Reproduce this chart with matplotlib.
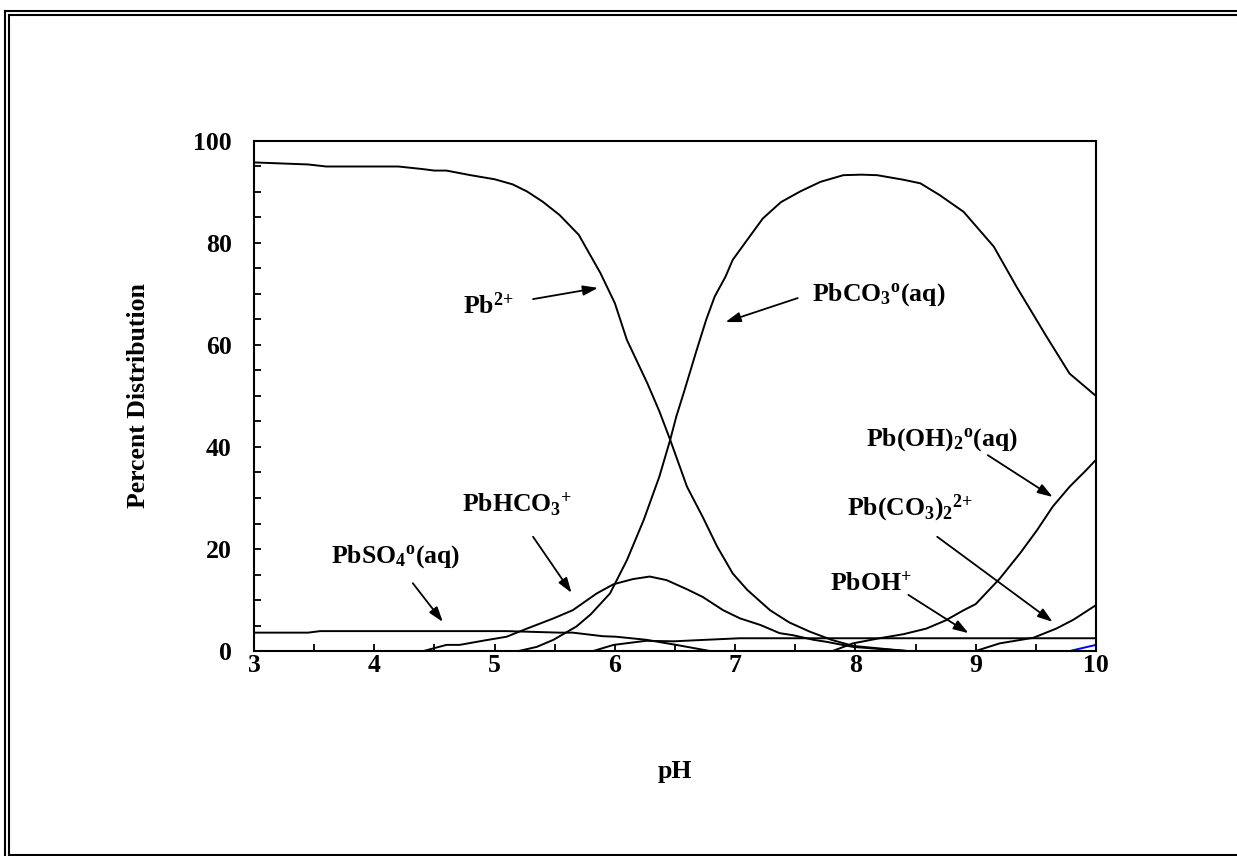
import matplotlib
matplotlib.use("Agg")
import matplotlib.pyplot as plt
from matplotlib.lines import Line2D

plt.rcParams['font.family'] = ['Liberation Serif', 'DejaVu Serif']
plt.rcParams['font.weight'] = 'bold'
plt.rcParams['mathtext.fontset'] = 'custom'
plt.rcParams['mathtext.rm'] = 'Liberation Serif:bold'
plt.rcParams['mathtext.it'] = 'Liberation Serif:bold'
plt.rcParams['mathtext.bf'] = 'Liberation Serif:bold'
plt.rcParams['mathtext.default'] = 'rm'

# species curves (pH, percent)
pb_x = [3.0, 3.45, 3.6, 4.2, 4.4, 4.5, 4.6, 4.8, 5.0, 5.15, 5.27, 5.4, 5.54, 5.7, 5.88,
        6.0, 6.1, 6.27, 6.37, 6.46, 6.6, 6.73, 6.85, 6.98, 7.1, 7.29, 7.45, 7.62, 7.8,
        7.98, 8.2, 8.43]
pb_y = [95.8, 95.4, 95.0, 95.0, 94.5, 94.2, 94.2, 93.3, 92.5, 91.5, 90.1, 88.1, 85.5, 81.6, 74.1,
        68.2, 61.0, 52.5, 47.0, 41.4, 32.2, 26.3, 20.5, 15.2, 12.0, 8.0, 5.6, 3.8, 2.2,
        1.0, 0.5, 0.0]

pbco3_x = [5.2, 5.35, 5.49, 5.68, 5.8, 5.96, 6.1, 6.24, 6.37, 6.46, 6.51, 6.58, 6.68, 6.76,
           6.83, 6.92, 6.98, 7.1, 7.23, 7.38, 7.54, 7.71, 7.9, 8.05, 8.18, 8.4, 8.54, 8.7,
           8.9, 9.15, 9.34, 9.59, 9.78, 10.0]
pbco3_y = [0.0, 0.8, 2.2, 4.8, 7.2, 11.3, 17.8, 25.7, 34.2, 41.4, 45.9, 51.2, 59.0, 65.0,
           69.5, 73.4, 76.7, 80.6, 84.8, 88.0, 90.1, 92.0, 93.3, 93.4, 93.3, 92.4, 91.7, 89.4,
           86.1, 79.3, 71.4, 61.6, 54.4, 50.0]

pbhco3_x = [4.41, 4.6, 4.71, 4.9, 5.1, 5.27, 5.49, 5.65, 5.85, 5.99, 6.15, 6.29, 6.43, 6.6,
            6.73, 6.9, 7.04, 7.21, 7.37, 7.48, 7.65, 7.76, 7.98, 8.2, 8.43]
pbhco3_y = [0.0, 1.2, 1.2, 2.0, 2.8, 4.4, 6.4, 8.0, 11.3, 13.1, 14.1, 14.6, 13.9, 12.1,
            10.6, 8.0, 6.4, 5.1, 3.5, 3.1, 2.2, 1.8, 0.8, 0.4, 0.0]

pbso4_x = [3.0, 3.45, 3.55, 4.0, 5.1, 5.54, 5.65, 5.9, 6.01, 6.26, 6.51, 6.79]
pbso4_y = [3.6, 3.6, 3.9, 3.9, 3.9, 3.6, 3.6, 2.9, 2.8, 2.2, 1.2, 0.0]

pboh_x = [5.82, 5.99, 6.26, 6.49, 6.76, 7.04, 7.5, 10.0]
pboh_y = [0.0, 1.2, 2.0, 1.9, 2.2, 2.5, 2.5, 2.5]

pboh2_x = [7.81, 7.98, 8.2, 8.4, 8.59, 8.75, 8.9, 9.0, 9.2, 9.37, 9.51, 9.64, 9.78, 9.92, 10.0]
pboh2_y = [0.0, 1.5, 2.5, 3.3, 4.4, 6.0, 8.0, 9.2, 14.2, 19.2, 23.7, 28.3, 32.2, 35.5, 37.5]

pbco32_x = [9.0, 9.2, 9.48, 9.67, 9.81, 10.0]
pbco32_y = [0.0, 1.5, 2.6, 4.4, 6.1, 9.0]

blue_x = [9.8, 10.0]
blue_y = [0.1, 1.2]

# labels: text, text position, arrow tail, arrow tip
labels = [
    (r'$Pb^{2{+}}$', (4.95, 67.8), (5.32, 69.0), (5.86, 71.2)),
    (r'$PbCO_3{}^{o}(aq)$', (8.19, 69.8), (7.52, 69.2), (6.92, 64.5)),
    (r'$Pb(OH)_2{}^{o}(aq)$', (8.72, 41.4), (9.10, 38.4), (9.64, 30.2)),
    (r'$Pb(CO_3)_2{}^{2{+}}$', (8.45, 28.0), (8.68, 22.4), (9.64, 5.7)),
    (r'$PbOH^{{+}}$', (8.13, 13.3), (8.44, 11.0), (8.94, 3.5)),
    (r'$PbHCO_3{}^{{+}}$', (5.19, 28.8), (5.32, 22.4), (5.64, 11.4)),
    (r'$PbSO_4{}^{o}(aq)$', (4.18, 18.6), (4.32, 13.3), (4.57, 5.7)),
]

fig = plt.figure(figsize=(12.37, 8.56), dpi=100)
ax = fig.add_axes([254/1237, 1-651/856, (1096-254)/1237, (651-141)/856])

for xs, ys in [(pb_x, pb_y), (pbco3_x, pbco3_y), (pbhco3_x, pbhco3_y), (pbso4_x, pbso4_y),
               (pboh_x, pboh_y), (pboh2_x, pboh2_y), (pbco32_x, pbco32_y)]:
    ax.plot(xs, ys, color='k', lw=1.4)
ax.plot(blue_x, blue_y, color='#0000ff', lw=1.4)

for txt, tpos, tail, tip in labels:
    ax.text(tpos[0], tpos[1], txt, fontsize=18.5, ha='center', va='center')
    ax.annotate('', xy=tip, xytext=tail,
                arrowprops=dict(arrowstyle='-|>,head_length=0.9,head_width=0.3',
                                color='k', lw=1.3, shrinkA=0, shrinkB=0))

ax.set_xlim(3, 10)
ax.set_ylim(0, 100)
ax.set_xticks(range(3, 11))
ax.set_xticks([x + 0.5 for x in range(3, 10)], minor=True)
ax.set_yticks(range(0, 101, 20))
ax.set_yticks(range(0, 101, 5), minor=True)
ax.tick_params(which='both', direction='in', length=5, width=1.3)
ax.tick_params(axis='y', which='major', pad=16, labelsize=18.5)
ax.tick_params(axis='x', which='major', pad=2, labelsize=18.5)
for s in ax.spines.values():
    s.set_linewidth(1.5)

ax.set_ylabel('Percent Distribution', fontsize=18.5, fontweight='bold', labelpad=31)
ax.set_xlabel('pH', fontsize=18.5, fontweight='bold', labelpad=60)

# double frame round the picture
W, H = 1237, 856
def fline(x0, y0, x1, y1):
    fig.add_artist(Line2D([x0 / W, x1 / W], [1 - y0 / H, 1 - y1 / H], color='k', lw=1.5,
                          transform=fig.transFigure))

fline(5, 11, W, 11)
fline(9, 14.5, W, 14.5)
fline(5, 11, 5, H)
fline(9, 14.5, 9, 855)
fline(9, 855, W, 855)

fig.savefig('out.png', dpi=100)
